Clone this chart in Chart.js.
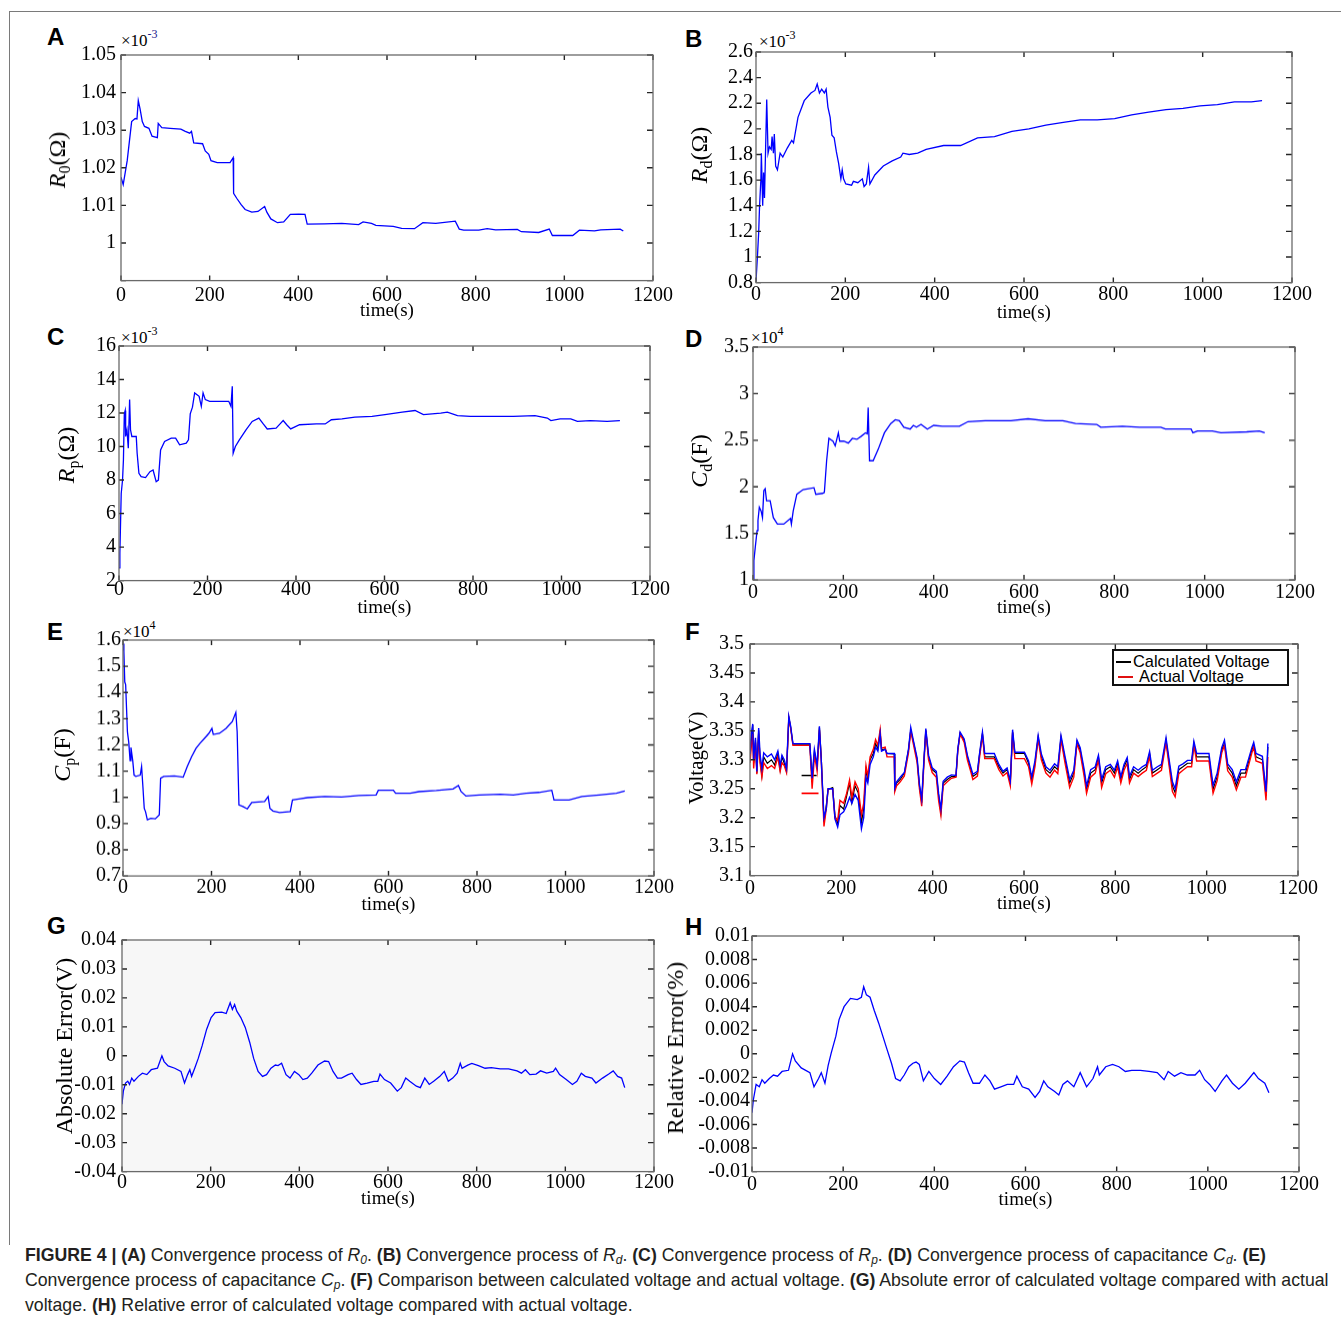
<!DOCTYPE html>
<html>
<head>
<meta charset="utf-8">
<script src="https://cdn.jsdelivr.net/npm/chart.js@4.4.1/dist/chart.umd.min.js"></script>
<style>
  html, body { margin: 0; padding: 0; background: #fff; }
  #page { position: relative; width: 1341px; height: 1321px; overflow: hidden; font-family: "Liberation Serif", "Times New Roman", serif; color: #000; }
  #page canvas { position: absolute; }
  .frameTop { position: absolute; left: 9px; top: 11px; width: 1332px; border-top: 1.5px solid #7a7a7a; }
  .frameLeft { position: absolute; left: 9px; top: 11px; height: 1234px; border-left: 1.5px solid #7a7a7a; }
  .letter { position: absolute; font: bold 24px "Liberation Sans", Arial, sans-serif; line-height: 24px; }
  .expo { position: absolute; font-size: 17px; line-height: 17px; white-space: nowrap; }
  .expo sup { font-size: 12px; line-height: 0; vertical-align: 8px; }
  .ytitle { position: absolute; transform: translate(-50%, -50%) rotate(-90deg); white-space: nowrap; font-size: 24px; line-height: 24px; z-index: 2; }
  .ytitle sub { font-size: 16px; line-height: 0; vertical-align: -5px; }
  .legend { position: absolute; left: 1112px; top: 649px; width: 173px; height: 33px; border: 2px solid #111; background: #fff; font: 16.4px "Liberation Sans", Arial, sans-serif; z-index: 3; }
  .legend div { position: absolute; white-space: nowrap; line-height: 16px; }
  .legend span { position: absolute; height: 0; }
  .caption { position: absolute; left: 25px; top: 1243px; font: 17.7px "Liberation Sans", Arial, sans-serif; line-height: 25px; color: #231f20; white-space: nowrap; }
  .caption sub { font-size: 12px; line-height: 0; vertical-align: -3px; }
</style>
</head>
<body>
<div id="page">
  <div class="frameTop"></div>
  <div class="frameLeft"></div>

  <div class="letter" style="left:47px;top:25px">A</div>
  <div class="letter" style="left:685px;top:27px">B</div>
  <div class="letter" style="left:47px;top:325px">C</div>
  <div class="letter" style="left:685px;top:327px">D</div>
  <div class="letter" style="left:47px;top:620px">E</div>
  <div class="letter" style="left:685px;top:620px">F</div>
  <div class="letter" style="left:47px;top:914px">G</div>
  <div class="letter" style="left:685px;top:915px">H</div>

  <div class="expo" style="left:121px;top:32px">×10<sup style="color:#1a1a8c">-3</sup></div>
  <div class="expo" style="left:759px;top:33px">×10<sup>-3</sup></div>
  <div class="expo" style="left:121px;top:329px">×10<sup>-3</sup></div>
  <div class="expo" style="left:751px;top:329px">×10<sup>4</sup></div>
  <div class="expo" style="left:123px;top:623px">×10<sup>4</sup></div>

  <div class="ytitle" style="left:57px;top:160px"><i>R</i><sub>0</sub>(Ω)</div>
  <div class="ytitle" style="left:699px;top:155px"><i>R</i><sub>d</sub>(Ω)</div>
  <div class="ytitle" style="left:66px;top:455px"><i>R</i><sub>p</sub>(Ω)</div>
  <div class="ytitle" style="left:699px;top:461px"><i>C</i><sub>d</sub>(F)</div>
  <div class="ytitle" style="left:62px;top:755px"><i>C</i><sub>p</sub>(F)</div>
  <div class="ytitle" style="left:696px;top:758px;font-size:21px">Voltage(V)</div>
  <div class="ytitle" style="left:64px;top:1046px">Absolute Error(V)</div>
  <div class="ytitle" style="left:675px;top:1048px">Relative Error(%)</div>

  <div class="legend">
    <span style="left:2px;top:10px;width:15px;border-top:2px solid #000"></span>
    <div style="left:19px;top:2px">Calculated Voltage</div>
    <span style="left:4px;top:25px;width:15px;border-top:2px solid #e01010"></span>
    <div style="left:25px;top:17px">Actual Voltage</div>
  </div>

  <div class="caption">
    <b>FIGURE 4 | (A)</b> Convergence process of <i>R<sub>0</sub></i>. <b>(B)</b> Convergence process of <i>R<sub>d</sub></i>. <b>(C)</b> Convergence process of <i>R<sub>p</sub></i>. <b>(D)</b> Convergence process of capacitance <i>C<sub>d</sub></i>. <b>(E)</b><br>
    Convergence process of capacitance <i>C<sub>p</sub></i>. <b>(F)</b> Comparison between calculated voltage and actual voltage. <b>(G)</b> Absolute error of calculated voltage compared with actual<br>
    voltage. <b>(H)</b> Relative error of calculated voltage compared with actual voltage.
  </div>
</div>

<script>
// ---- data ----
const xTicks = [0, 200, 400, 600, 800, 1000, 1200];
const xLabels = ['0', '200', '400', '600', '800', '1000', '1200'];

// (A) R0, x10^-3 ohm
const tA = [0,5,14,24,32,36,39,43,48,53, 63,70,82,84,92,111,135,145,155,159,
    164,184,190,198,203,217,246,253,254,261, 271,280,295,309,324,329,338,353,367,382,
    401,415,420,459,498,536,546,565,575,614, 633,662,681,710,754,763,773,807,826,845,
    894,903,942,966,973,1019,1034,1068,1082,1126, 1133];
const rZero = [1.0175,1.0155,1.0219,1.0323,1.0331,1.033,1.0379,1.0357,1.0323,1.031,
    1.0305,1.0284,1.028,1.0318,1.0307,1.0305,1.0303,1.0297,1.0292,1.0297,
    1.0266,1.0264,1.0245,1.0236,1.0219,1.0214,1.0214,1.0227,1.0132,1.0119,
    1.0102,1.0089,1.0082,1.0084,1.0097,1.0082,1.0064,1.0054,1.0056,1.0076,
    1.0077,1.0076,1.005,1.0051,1.0052,1.0049,1.0056,1.0052,1.0047,1.0044,
    1.0039,1.0038,1.0054,1.0052,1.0058,1.0037,1.0034,1.0034,1.0038,1.0035,
    1.0036,1.003,1.0028,1.0037,1.002,1.002,1.0034,1.0032,1.0035,1.0037, 1.0032];
const yTicksA = [0.99, 1, 1.01, 1.02, 1.03, 1.04, 1.05];
const yLabelsA = ['', '1', '1.01', '1.02', '1.03', '1.04', '1.05'];

// (B) Rd, x10^-3 ohm
const tB = [0,3,6,8,11,12,15,17,19,24, 27,30,34,36,39,41,44,48,54,60,
    70,80,84,94,108,123,132,137,142,147, 153,157,161,166,170,175,180,185,190,193,
    196,201,214,218,228,238,242,247,252,255, 266,285,305,324,329,343,362,381,420,458,
    496,534,573,611,649,688,726,764,803,841, 879,918,956,994,1033,1071,1109,1133];
const rD = [0.81,0.99,1.19,1.40,1.61,1.81,1.40,1.66,1.46,2.23,
    1.81,1.86,1.84,1.94,1.81,1.96,1.71,1.68,1.81,1.78,
    1.85,1.91,1.89,2.09,2.22,2.28,2.30,2.35,2.28,2.31,
    2.28,2.31,2.17,2.09,1.95,1.93,1.82,1.73,1.61,1.68,
    1.61,1.57,1.56,1.59,1.58,1.61,1.55,1.57,1.70,1.57,
    1.64,1.71,1.75,1.78,1.81,1.80,1.81,1.84,1.87,1.87,
    1.93,1.94,1.98,2.00,2.03,2.05,2.07,2.07,2.08,2.11,
    2.13,2.15,2.16,2.18,2.19,2.21,2.21,2.22];
const yTicksB = [0.8, 1, 1.2, 1.4, 1.6, 1.8, 2, 2.2, 2.4, 2.6];
const yLabelsB = ['0.8', '1', '1.2', '1.4', '1.6', '1.8', '2', '2.2', '2.4', '2.6'];

// (C) Rp, x10^-3 ohm
const tC = [0,2,5,8,10,12,14,15,18,21, 24,26,29,33,39,41,45,50,60,70,
    77,84,89,94,103,118,128,137,152,157, 161,166,171,181,186,190,195,205,224,248,
    253,256,258,263,272,287,301,316,326,335, 355,364,371,379,388,408,446,466,480,504,
    533,572,601,640,669,688,727,742,765,794, 843,891,940,968,976,997,1021,1036,1065,1103, 1132];
const rP = [2.76,3.65,7.2,8.0,9.2,11.95,12.15,10.6,11.0,9.9,
    12.8,11.0,10.6,10.6,10.6,9.6,8.4,8.2,8.15,8.5,
    8.6,7.9,8.0,9.8,10.3,10.5,10.5,10.1,10.2,10.4,
    11.95,12.35,13.2,13.0,12.4,13.2,12.8,12.7,12.7,12.7,
    12.4,13.6,9.6,10.0,10.4,11.0,11.5,11.7,11.35,11.05,
    11.1,11.35,11.55,11.3,11.05,11.3,11.35,11.35,11.6,11.65,
    11.75,11.8,11.9,12.05,12.15,11.9,12.0,12.05,11.85,11.8,
    11.8,11.8,11.85,11.7,11.55,11.65,11.65,11.5,11.55,11.5, 11.55];
const yTicksC = [2, 4, 6, 8, 10, 12, 14, 16];
const yLabelsC = ['2', '4', '6', '8', '10', '12', '14', '16'];

// (D) Cd, x10^4 F
const tD = [0,2,5,9,11,14,18,21,24,27, 30,38,45,54,68,83,85,89,97,111,
    135,139,154,158,163,168,177,182,189,192, 201,211,220,230,239,249,253,255,258,266,
    277,291,305,315,324,334,348,355,362,372, 386,400,419,457,476,514,571,609,647,686,
    714,761,770,818,856,903,913,970,974,984, 1017,1036,1093,1121,1133];
const cD = [1.0,1.21,1.35,1.53,1.64,1.78,1.74,1.67,1.96,1.98,
    1.85,1.85,1.67,1.60,1.60,1.66,1.60,1.74,1.92,1.97,
    1.99,1.92,1.93,1.94,2.28,2.52,2.49,2.44,2.58,2.49,
    2.49,2.47,2.52,2.51,2.54,2.58,2.57,2.85,2.28,2.28,
    2.40,2.58,2.68,2.72,2.71,2.64,2.62,2.66,2.64,2.67,
    2.62,2.66,2.65,2.65,2.70,2.71,2.71,2.73,2.71,2.71,
    2.68,2.67,2.64,2.65,2.64,2.64,2.62,2.62,2.58,2.60,
    2.60,2.58,2.59,2.60,2.58];
const yTicksD = [1, 1.5, 2, 2.5, 3, 3.5];
const yLabelsD = ['1', '1.5', '2', '2.5', '3', '3.5'];

// (E) Cp, x10^4 F
const tE = [0,2,4,6,8,10,13,16,18,22, 25,29,39,42,45,48,51,55,63,73,
    82,85,92,116,136,145,155,165,174,184, 194,201,204,218,233,247,255,258,262,271,
    281,291,320,328,332,339,354,378,383,397, 417,456,494,533,572,577,611,616,649,669,
    708,746,758,764,775,805,853,882,911,940, 969,974,1008,1037,1076,1115,1134];
const cP = [1.587,1.556,1.44,1.43,1.34,1.25,1.21,1.14,1.19,1.14,
    1.085,1.08,1.085,1.117,1.04,0.958,0.945,0.914,0.92,0.918,
    0.933,1.073,1.08,1.082,1.077,1.117,1.155,1.187,1.206,1.225,
    1.244,1.263,1.24,1.244,1.263,1.289,1.324,1.25,0.971,0.965,
    0.956,0.98,0.984,1.003,0.958,0.948,0.942,0.946,0.99,0.994,
    0.999,1.003,1.001,1.007,1.009,1.027,1.027,1.016,1.016,1.022,
    1.026,1.032,1.045,1.022,1.005,1.009,1.012,1.009,1.016,1.019,
    1.027,0.99,0.99,1.003,1.009,1.016,1.024];
const yTicksE = [0.7, 0.8, 0.9, 1, 1.1, 1.2, 1.3, 1.4, 1.5, 1.6];
const yLabelsE = ['0.7', '0.8', '0.9', '1', '1.1', '1.2', '1.3', '1.4', '1.5', '1.6'];

// (F) terminal voltage, V
const tF = [0,3,6,8,12,15,19,22,26,30, 38,47,54,61,66,70,75,80,85,89,
    94,131,136,141,144,147,152,156,162,167, 171,181,186,192,197,205,211,218,223,230,
    237,244,249,254,258,263,270,275,280,285, 288,296,300,316,317,321,329,338,347,352,
    357,366,371,376,381,385,391,399,408,413, 418,423,432,441,451,455,460,469,476,484,
    488,498,502,509,514,535,545,554,563,570, 575,580,601,610,617,624,631,638,648,657,
    667,674,681,690,700,709,716,723,732,737, 746,756,763,770,779,789,798,805,812,819,
    826,831,840,850,859,868,875,881,892,901, 911,918,925,931,939,948,958,967,972,978,
    1005,1014,1023,1033,1039,1046,1056,1065,1075,1085, 1099,1103,1108,1122,1130,1134];
const vCalc = [3.305,3.334,3.360,3.294,3.334,3.277,3.351,3.300,3.273,3.305,
    3.294,3.300,3.291,3.311,3.283,3.305,3.294,3.280,3.373,3.356,
    3.327,3.327,3.266,3.314,3.300,3.288,3.356,3.305,3.192,3.221,
    3.249,3.252,3.204,3.190,3.221,3.215,3.235,3.260,3.226,3.255,
    3.243,3.192,3.215,3.283,3.266,3.300,3.311,3.328,3.319,3.348,
    3.317,3.319,3.311,3.310,3.249,3.260,3.266,3.277,3.317,3.351,
    3.334,3.300,3.255,3.226,3.300,3.351,3.305,3.283,3.277,3.238,
    3.209,3.260,3.266,3.271,3.271,3.317,3.345,3.334,3.305,3.283,
    3.271,3.277,3.305,3.345,3.305,3.305,3.288,3.277,3.283,3.260,
    3.348,3.311,3.311,3.294,3.266,3.294,3.339,3.305,3.283,3.277,
    3.288,3.283,3.339,3.300,3.260,3.277,3.331,3.317,3.277,3.249,
    3.277,3.283,3.305,3.260,3.283,3.288,3.277,3.294,3.266,3.288,
    3.300,3.266,3.283,3.277,3.283,3.288,3.311,3.277,3.283,3.288,
    3.334,3.294,3.255,3.243,3.283,3.288,3.294,3.294,3.328,3.305,
    3.305,3.249,3.271,3.317,3.328,3.288,3.277,3.255,3.277,3.277,
    3.317,3.325,3.305,3.300,3.238,3.322];
const vActual = [3.295,3.325,3.345,3.285,3.330,3.275,3.345,3.295,3.270,3.295,
    3.285,3.290,3.285,3.305,3.280,3.295,3.290,3.278,3.372,3.355,
    3.325,3.325,3.250,3.305,3.295,3.280,3.352,3.300,3.185,3.215,
    3.250,3.250,3.200,3.195,3.230,3.225,3.240,3.265,3.235,3.262,
    3.250,3.205,3.225,3.290,3.272,3.305,3.318,3.335,3.325,3.352,
    3.320,3.322,3.305,3.305,3.245,3.255,3.262,3.272,3.312,3.350,
    3.330,3.295,3.250,3.220,3.295,3.350,3.300,3.278,3.270,3.230,
    3.204,3.255,3.262,3.268,3.270,3.315,3.345,3.330,3.300,3.278,
    3.266,3.272,3.300,3.343,3.302,3.302,3.283,3.272,3.278,3.255,
    3.347,3.302,3.302,3.288,3.258,3.288,3.336,3.300,3.277,3.270,
    3.282,3.276,3.335,3.294,3.252,3.270,3.328,3.312,3.270,3.242,
    3.270,3.277,3.300,3.252,3.276,3.282,3.270,3.288,3.260,3.282,
    3.294,3.260,3.277,3.271,3.277,3.282,3.306,3.271,3.277,3.282,
    3.330,3.288,3.245,3.236,3.276,3.282,3.288,3.288,3.325,3.298,
    3.298,3.242,3.264,3.312,3.325,3.281,3.270,3.248,3.270,3.270,
    3.312,3.322,3.298,3.294,3.230,3.305];
const vModel = [3.310,3.345,3.362,3.300,3.338,3.280,3.355,3.310,3.285,3.312,
    3.305,3.310,3.300,3.315,3.290,3.308,3.300,3.285,3.375,3.358,
    3.328,3.328,3.268,3.318,3.305,3.290,3.358,3.300,3.200,3.215,
    3.250,3.250,3.198,3.184,3.205,3.210,3.220,3.235,3.225,3.240,
    3.230,3.181,3.200,3.270,3.260,3.292,3.305,3.322,3.315,3.345,
    3.315,3.318,3.311,3.311,3.252,3.262,3.270,3.278,3.318,3.356,
    3.336,3.303,3.258,3.232,3.302,3.354,3.308,3.286,3.280,3.242,
    3.215,3.263,3.270,3.274,3.273,3.318,3.348,3.336,3.308,3.286,
    3.275,3.280,3.307,3.348,3.311,3.311,3.292,3.280,3.286,3.263,
    3.352,3.313,3.313,3.298,3.270,3.298,3.342,3.310,3.288,3.282,
    3.293,3.288,3.342,3.305,3.266,3.282,3.334,3.321,3.282,3.255,
    3.283,3.288,3.308,3.266,3.288,3.292,3.282,3.298,3.271,3.292,
    3.304,3.271,3.288,3.282,3.288,3.292,3.314,3.282,3.288,3.292,
    3.338,3.299,3.262,3.250,3.289,3.293,3.299,3.299,3.332,3.311,
    3.311,3.256,3.277,3.321,3.334,3.293,3.283,3.262,3.283,3.283,
    3.321,3.330,3.311,3.306,3.245,3.328];
// short stray swatch marks inside panel F
const stubCalcT = [113, 146];
const stubCalcV = [3.273, 3.273];
const stubActualT = [113, 150];
const stubActualV = [3.242, 3.242];
const yTicksF = [3.1, 3.15, 3.2, 3.25, 3.3, 3.35, 3.4, 3.45, 3.5];
const yLabelsF = ['3.1', '3.15', '3.2', '3.25', '3.3', '3.35', '3.4', '3.45', '3.5'];

// (G) absolute error, V
const tG = [0,3,8,13,17,22,27,37,46,56, 66,80,90,95,104,119,133,141,148,153,
    157,164,172,181,191,201,210,225,235,244, 249,254,259,268,278,288,297,307,317,326,
    336,346,352,360,370,379,389,399,408,418, 428,442,457,466,476,486,495,510,519,529,
    539,553,568,577,582,592,606,621,630,640, 649,664,673,683,693,703,717,727,736,746,
    756,763,767,780,789,804,819,833,853,872, 891,901,910,920,934,944,958,973,978,987,
    1002,1016,1026,1036,1045,1060,1069,1084,1098,1108, 1118,1127,1134];
const absErr = [-0.0167,-0.0122,-0.0094,-0.0088,-0.0099,-0.0077,-0.0088,-0.0071,-0.006,-0.0065,
    -0.0048,-0.0043,0.0,-0.002,-0.0035,-0.0043,-0.0054,-0.0094,-0.0065,-0.0048,
    -0.0071,-0.0043,-0.0009,0.0036,0.0092,0.0132,0.0149,0.0151,0.0146,0.0183,
    0.016,0.0177,0.0154,0.0132,0.0098,0.0047,-0.0009,-0.0054,-0.0071,-0.0065,
    -0.0043,-0.0032,-0.0034,-0.0026,-0.0065,-0.0077,-0.0054,-0.0065,-0.0082,-0.0077,
    -0.006,-0.0032,-0.0018,-0.002,-0.0054,-0.0077,-0.0077,-0.0065,-0.006,-0.0082,
    -0.0099,-0.0094,-0.0088,-0.0088,-0.0063,-0.0082,-0.0094,-0.0122,-0.011,-0.0077,
    -0.0088,-0.0105,-0.011,-0.0077,-0.0099,-0.0088,-0.0071,-0.0054,-0.0088,-0.0077,
    -0.006,-0.0026,-0.0043,-0.0032,-0.0026,-0.0034,-0.0043,-0.0041,-0.0045,-0.0045,
    -0.0052,-0.006,-0.0048,-0.0065,-0.0063,-0.0052,-0.006,-0.0054,-0.0043,-0.0065,
    -0.0082,-0.0099,-0.0088,-0.006,-0.0071,-0.0077,-0.0094,-0.0077,-0.0063,-0.0052,
    -0.0071,-0.0077,-0.011];
const yTicksG = [-0.04, -0.03, -0.02, -0.01, 0, 0.01, 0.02, 0.03, 0.04];
const yLabelsG = ['-0.04', '-0.03', '-0.02', '-0.01', '0', '0.01', '0.02', '0.03', '0.04'];

// (H) relative error, %
const tH = [0,3,9,16,22,28,38,47,56,66, 80,89,95,108,127,136,146,152,160,167,
    174,184,191,202,216,231,240,245,251,259, 268,278,287,296,306,315,325,334,344,353,
    360,367,376,388,400,414,428,442,456,466, 475,485,499,511,522,532,546,560,574,581,
    593,607,621,631,640,649,664,673,682,692, 706,720,734,748,758,762,776,791,805,819,
    833,852,871,889,904,913,927,941,955,972, 982,993,1004,1016,1031,1041,1054,1068,1082,1101,
    1111,1125,1134];
const relErr = [-0.005,-0.0039,-0.0026,-0.0028,-0.0022,-0.0025,-0.0021,-0.0018,-0.0019,-0.0015,
    -0.0014,0,-0.0006,-0.0012,-0.0016,-0.0028,-0.0021,-0.0016,-0.0025,-0.001,
    0.0001,0.0015,0.0029,0.004,0.0047,0.0046,0.0048,0.0057,0.005,0.0048,
    0.0037,0.0026,0.0015,0.0004,-0.0008,-0.0021,-0.0023,-0.0018,-0.0011,-0.0008,
    -0.0007,-0.0009,-0.0023,-0.0015,-0.0021,-0.0026,-0.0019,-0.0011,-0.0006,-0.0007,
    -0.0016,-0.0025,-0.0025,-0.0018,-0.0023,-0.003,-0.0028,-0.0026,-0.0026,-0.0019,
    -0.0028,-0.003,-0.0037,-0.0032,-0.0023,-0.0028,-0.0032,-0.0035,-0.0026,-0.0023,
    -0.0028,-0.0016,-0.0028,-0.0021,-0.0011,-0.0018,-0.0011,-0.0009,-0.0011,-0.0015,
    -0.0014,-0.0014,-0.0015,-0.0016,-0.0022,-0.0015,-0.0019,-0.0016,-0.0018,-0.0018,
    -0.0014,-0.0022,-0.0026,-0.0032,-0.0023,-0.0018,-0.0025,-0.003,-0.0025,-0.0016,
    -0.0021,-0.0025,-0.0033];
const yTicksH = [-0.01, -0.008, -0.006, -0.004, -0.002, 0, 0.002, 0.004, 0.006, 0.008, 0.01];
const yLabelsH = ['-0.01', '-0.008', '-0.006', '-0.004', '-0.002', '0', '0.002', '0.004', '0.006', '0.008', '0.01'];

// ---- layout ----
const SERIF = "'Liberation Serif', 'Times New Roman', serif";
const YW = 80;   // reserved width for y tick labels
const PT = 14;   // room above the plot box
const PR = 30;   // room right of the plot box
const BLUE = '#0000ff';

const toPoints = (t, v) => t.map((x, i) => ({x: x, y: v[i]}));

const line = (t, v, color, width) => ({
    data: toPoints(t, v),
    borderColor: color,
    borderWidth: width || 1.3,
    pointRadius: 0,
    tension: 0,
    fill: false
});

const panels = [
    {box: [121, 52, 653, 281], yTicks: yTicksA, yLabels: yLabelsA, yPad: 5, xPad: 3, xh: 41.4,
        lines: [line(tA, rZero, BLUE)]},
    {box: [756, 51, 1292, 283], yTicks: yTicksB, yLabels: yLabelsB, yPad: 3, xPad: 0, xh: 41.4,
        lines: [line(tB, rD, BLUE)]},
    {box: [119, 345, 650, 581], yTicks: yTicksC, yLabels: yLabelsC, yPad: 3, xPad: -3, xh: 38.4,
        lines: [line(tC, rP, BLUE)]},
    {box: [753, 345, 1295, 580], yTicks: yTicksD, yLabels: yLabelsD, yPad: 4, xPad: 0.5, xh: 38.9,
        lines: [line(tD, cD, BLUE)]},
    {box: [123, 640, 654, 876], yTicks: yTicksE, yLabels: yLabelsE, yPad: 2, xPad: -0.5, xh: 39.9,
        lines: [line(tE, cP, BLUE)]},
    {box: [750, 640, 1298, 876], yTicks: yTicksF, yLabels: yLabelsF, yPad: 6, xPad: 1.5, xh: 39.4,
        lines: [line(tF, vModel, BLUE, 1.4), line(tF, vActual, '#ff0000', 1.4), line(tF, vCalc, '#000000', 1.2),
            line(stubCalcT, stubCalcV, '#000000', 1.6), line(stubActualT, stubActualV, '#ff0000', 1.6)]},
    {box: [122, 936, 654, 1172], yTicks: yTicksG, yLabels: yLabelsG, yPad: 6, xPad: -1, xh: 38.4, fill: '#f7f7f7',
        lines: [line(tG, absErr, BLUE)]},
    {box: [752, 936, 1299, 1172], yTicks: yTicksH, yLabels: yLabelsH, yPad: 2, xPad: 1.5, xh: 39.4,
        lines: [line(tH, relErr, BLUE)]}
];

// MATLAB-like box with inward ticks on all four sides
const matlabBox = {
    id: 'matlabBox',
    beforeDatasetsDraw(chart, args, opts) {
        if (!opts.fill) return;
        const a = chart.chartArea;
        chart.ctx.save();
        chart.ctx.fillStyle = opts.fill;
        chart.ctx.fillRect(a.left, a.top, a.width, a.height);
        chart.ctx.restore();
    },
    afterDatasetsDraw(chart) {
        const {ctx, chartArea: a, scales: {x, y}} = chart;
        ctx.save();
        ctx.strokeStyle = '#262626';
        ctx.lineWidth = 1.4;
        ctx.beginPath();
        x.ticks.forEach(tk => {
            const px = x.getPixelForValue(tk.value);
            ctx.moveTo(px, a.bottom); ctx.lineTo(px, a.bottom - 5);
            ctx.moveTo(px, a.top); ctx.lineTo(px, a.top + 5);
        });
        y.ticks.forEach(tk => {
            const py = y.getPixelForValue(tk.value);
            ctx.moveTo(a.left, py); ctx.lineTo(a.left + 5, py);
            ctx.moveTo(a.right, py); ctx.lineTo(a.right - 6, py);
        });
        ctx.stroke();
        ctx.strokeStyle = '#6a6a6a';
        ctx.lineWidth = 1.3;
        ctx.strokeRect(a.left, a.top, a.width, a.height);
        ctx.restore();
    }
};

const page = document.getElementById('page');

panels.forEach(p =>
{
    const [l, t, r, b] = p.box;
    const canvas = document.createElement('canvas');
    const w = YW + (r - l) + PR;
    const h = PT + (b - t) + p.xh;
    canvas.width = w;
    canvas.height = h;
    canvas.style.left = (l - YW) + 'px';
    canvas.style.top = (t - PT) + 'px';
    canvas.style.width = w + 'px';
    canvas.style.height = h + 'px';
    page.appendChild(canvas);

    new Chart(canvas, {
        type: 'line',
        data: {datasets: p.lines},
        options: {
            responsive: false,
            animation: false,
            events: [],
            layout: {padding: {top: PT, right: PR, left: 0, bottom: 0}},
            plugins: {legend: {display: false}, tooltip: {enabled: false}, matlabBox: {fill: p.fill}},
            scales: {
                x: {
                    type: 'linear',
                    min: 0,
                    max: 1200,
                    afterBuildTicks: s => { s.ticks = xTicks.map(v => ({value: v})); },
                    afterFit: s => { s.height = p.xh; },
                    grid: {display: false, drawTicks: false},
                    border: {display: false},
                    ticks: {
                        autoSkip: false, maxRotation: 0, minRotation: 0,
                        padding: p.xPad, color: '#000',
                        font: {family: SERIF, size: 20},
                        callback: (v, i) => xLabels[i]
                    },
                    title: {display: true, text: 'time(s)', color: '#000', padding: 0,
                        font: {family: SERIF, size: 19}}
                },
                y: {
                    type: 'linear',
                    min: p.yTicks[0],
                    max: p.yTicks[p.yTicks.length - 1],
                    afterBuildTicks: s => { s.ticks = p.yTicks.map(v => ({value: v})); },
                    afterFit: s => { s.width = YW; },
                    grid: {display: false, drawTicks: false},
                    border: {display: false},
                    ticks: {
                        autoSkip: false,
                        padding: p.yPad, color: '#000',
                        font: {family: SERIF, size: 20},
                        callback: (v, i) => p.yLabels[i]
                    }
                }
            }
        },
        plugins: [matlabBox]
    });
});
</script>
</body>
</html>
